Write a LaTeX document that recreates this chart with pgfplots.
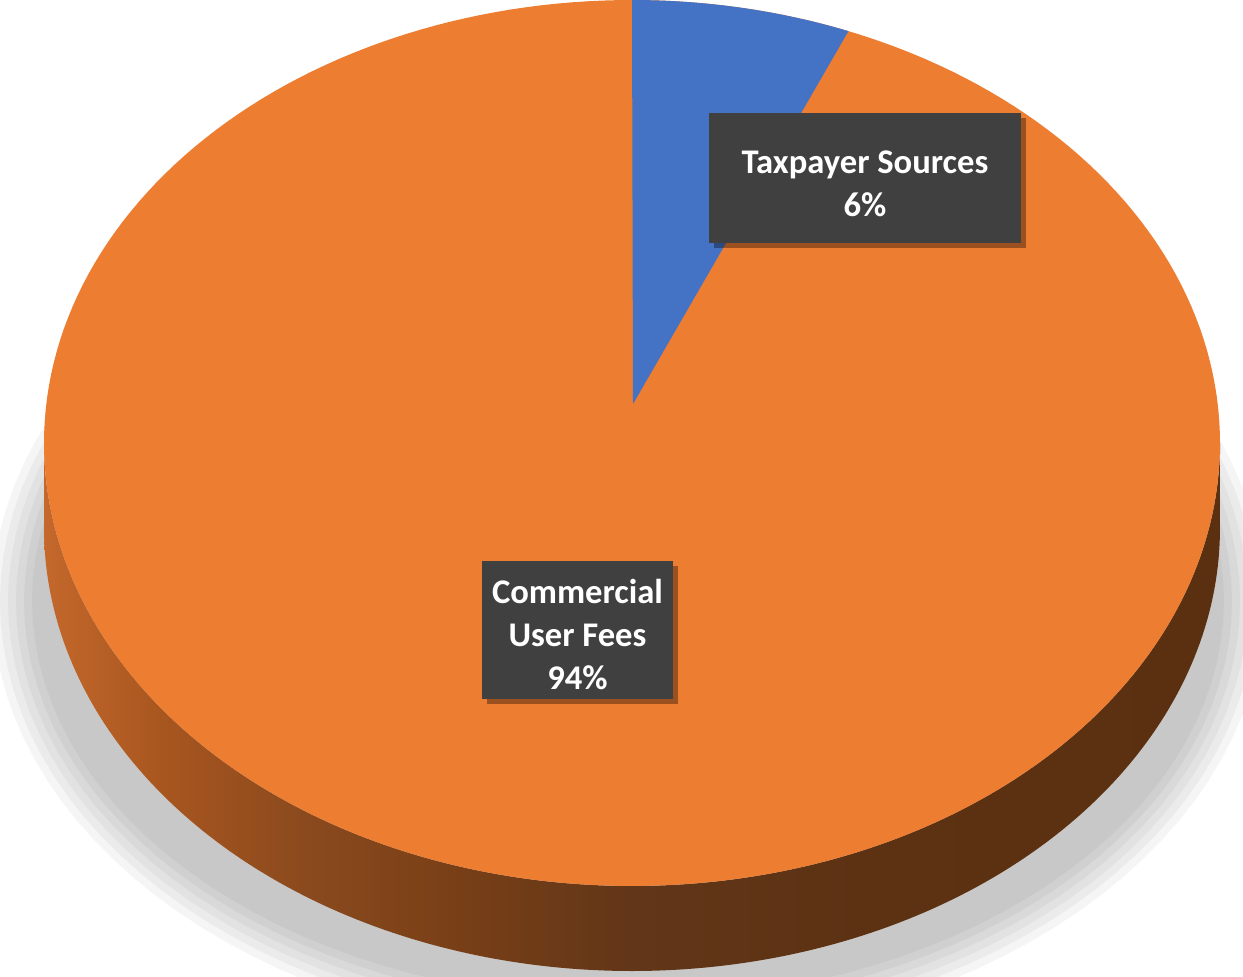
\documentclass[border=0pt]{standalone}
\usepackage{pgfplots}
\pgfplotsset{compat=1.18}
\usepackage{fontspec}
\setmainfont{Carlito}
\usetikzlibrary{shadows}
\definecolor{pieorange}{HTML}{ED7D31}
\definecolor{pieblue}{HTML}{4472C4}
\definecolor{boxgray}{HTML}{404040}
\pgfdeclarehorizontalshading{pieside}{100bp}{
  color(0bp)=(rgb,255:red,196;green,104;blue,44);
  color(25bp)=(rgb,255:red,196;green,104;blue,44);
  color(30bp)=(rgb,255:red,168;green,86;blue,31);
  color(36bp)=(rgb,255:red,139;green,74;blue,30);
  color(42bp)=(rgb,255:red,122;green,64;blue,23);
  color(50bp)=(rgb,255:red,98;green,54;blue,24);
  color(60bp)=(rgb,255:red,93;green,50;blue,19);
  color(75bp)=(rgb,255:red,90;green,48;blue,16);
  color(100bp)=(rgb,255:red,90;green,48;blue,16)}
\tikzset{lbl/.style={fill=boxgray, text=white, align=center, inner sep=0pt,
    font={\fontsize{17.3}{21.5}\selectfont\bfseries},
    drop shadow={shadow xshift=2.5pt, shadow yshift=-2.5pt, opacity=0.35, fill=black}}}
% data: share of funding (percent)
\def\vTax{6}
\def\vCom{94}
\begin{document}
\begin{tikzpicture}
\begin{axis}[
  width=621.5pt, height=490pt, scale only axis,
  xmin=0, xmax=1243, ymin=0, ymax=980, y dir=reverse,
  hide axis, clip=true,
]
% soft shadow
\pgfplotsinvokeforeach{0,1,2,3,4,5}{
  \addplot[fill=black, fill opacity=0.04, draw=none, domain=0:360, samples=121]
    ({628+(636-8*#1)*cos(x)}, {605-(440-8*#1)*sin(x)});
}
% side of the pie
\addplot[draw=none, shading=pieside,
  domain=180:540, samples=361]
  ({632+588*cos(x)}, {(x<=360)*(447-443*sin(x)) + (x>360)*(532+443*sin(x))});
% top face: Commercial User Fees (94%)
\addplot[fill=pieorange, draw=none, domain=0:360, samples=241]
  ({632+588*cos(x)}, {447-443*sin(x)});
% Taxpayer Sources (6%) wedge
\addplot[fill=pieblue, draw=none, domain={90-3.6*\vTax}:90, samples=30]
  ({632+588*cos(x)}, {447-443*sin(x)}) -- (axis cs:633,408) -- cycle;
% labels
\node[lbl, minimum width=156pt, minimum height=65pt] at (axis cs:865,182)
  {\rule{0pt}{17pt}Taxpayer Sources\\6\%};
\node[lbl, minimum width=95.5pt, minimum height=69pt] at (axis cs:577.5,634)
  {\rule{0pt}{17pt}Commercial\\User Fees\\94\%};
\end{axis}
\end{tikzpicture}
\end{document}
